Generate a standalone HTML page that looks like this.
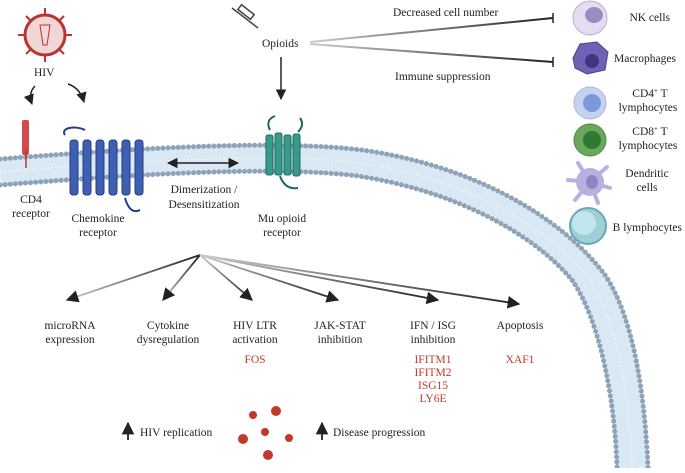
<!DOCTYPE html>
<html><head><meta charset="utf-8"><style>
body{margin:0;background:#fff}
svg text{font-family:"Liberation Serif",serif;font-size:11.5px;fill:#222}
.r{fill:#c0392b}
</style></head><body>
<svg width="685" height="468" viewBox="0 0 685 468" xmlns="http://www.w3.org/2000/svg">
<defs>
<marker id="a" viewBox="0 0 10 10" refX="9" refY="5" markerWidth="7" markerHeight="7" orient="auto-start-reverse"><path d="M0,0L10,5L0,10z" fill="#222"/></marker>
<linearGradient id="g" x1="0" x2="1"><stop offset="0" stop-color="#ccc"/><stop offset="1" stop-color="#222"/></linearGradient>
</defs>
<!-- membrane -->
<path d="M0,172 C150,160 280,153 360,163 C460,178 545,222 588,278 C618,320 630,400 632,468" fill="none" stroke="#d9e8f3" stroke-width="28"/>
<path d="M0,172 C150,160 280,153 360,163 C460,178 545,222 588,278 C618,320 630,400 632,468" fill="none" stroke="#fff" stroke-width="1.5" stroke-dasharray="1 3"/>
<path d="M0,159 C150,147 280,140 362,150 C470,165 560,215 605,275 C635,320 645,400 648,468" fill="none" stroke="#8fa3b8" stroke-width="5" stroke-linecap="round" stroke-dasharray="0.1 5"/>
<path d="M0,185 C150,173 280,166 358,176 C450,190 530,230 572,280 C600,320 615,400 617,468" fill="none" stroke="#8fa3b8" stroke-width="5" stroke-linecap="round" stroke-dasharray="0.1 5"/>
<!-- CD4 -->
<rect x="22" y="120" width="7" height="35" rx="2" fill="#d14b4b"/><line x1="26" y1="150" x2="26" y2="168" stroke="#b33" stroke-width="1.5"/>
<!-- chemokine receptor -->
<g fill="#3f5fb0" stroke="#233c8a" stroke-width="1">
<rect x="70" y="140" width="8" height="55" rx="3"/><rect x="83" y="140" width="8" height="55" rx="3"/><rect x="96" y="140" width="8" height="55" rx="3"/><rect x="109" y="140" width="8" height="55" rx="3"/><rect x="122" y="140" width="8" height="55" rx="3"/><rect x="135" y="140" width="8" height="55" rx="3"/></g>
<path d="M65,135 C60,128 75,125 85,130 M125,198 Q130,215 140,210" stroke="#233c8a" stroke-width="2" fill="none"/>
<!-- mu opioid -->
<g fill="#3a9a8a" stroke="#1e6b5e"><rect x="266" y="135" width="7" height="40" rx="2"/><rect x="275" y="133" width="7" height="42" rx="2"/><rect x="284" y="135" width="7" height="40" rx="2"/><rect x="293" y="134" width="7" height="42" rx="2"/></g>
<path d="M270,130 Q265,120 275,116 M298,132 Q305,125 300,118 M280,176 Q285,190 298,188" stroke="#1e6b5e" stroke-width="2" fill="none"/>
<line x1="168" y1="163" x2="238" y2="163" stroke="#222" stroke-width="1.5" marker-start="url(#a)" marker-end="url(#a)"/>
<!-- HIV -->
<circle cx="45" cy="35" r="20" fill="#f1d6d6" stroke="#b33" stroke-width="3"/>
<g stroke="#b33" stroke-width="2"><line x1="45" y1="15" x2="45" y2="8"/><line x1="45" y1="55" x2="45" y2="62"/><line x1="25" y1="35" x2="18" y2="35"/><line x1="65" y1="35" x2="72" y2="35"/><line x1="31" y1="21" x2="26" y2="16"/><line x1="59" y1="21" x2="64" y2="16"/><line x1="31" y1="49" x2="26" y2="54"/><line x1="59" y1="49" x2="64" y2="54"/></g>
<path d="M40,25 L50,25 L47,45 L43,45z" fill="none" stroke="#b33"/>
<text x="34" y="76">HIV</text>
<path d="M35,86 Q28,93 32,104" fill="none" stroke="#222" stroke-width="1.5" marker-end="url(#a)"/>
<path d="M68,84 Q80,88 84,102" fill="none" stroke="#222" stroke-width="1.5" marker-end="url(#a)"/>
<!-- syringe -->
<g stroke="#444" stroke-width="1.5" fill="none"><line x1="232" y1="8" x2="258" y2="28"/><rect x="238" y="9" width="16" height="6" transform="rotate(38 246 12)"/></g>
<text x="262" y="47">Opioids</text>
<line x1="310" y1="42" x2="553" y2="18" stroke="url(#g)" stroke-width="2"/><line x1="553" y1="13" x2="553" y2="23" stroke="#222" stroke-width="1.5"/>
<line x1="310" y1="44" x2="553" y2="62" stroke="url(#g)" stroke-width="2"/><line x1="553" y1="57" x2="553" y2="67" stroke="#222" stroke-width="1.5"/>
<text x="393" y="16">Decreased cell number</text>
<text x="395" y="80">Immune suppression</text>
<line x1="281" y1="57" x2="281" y2="99" stroke="#222" stroke-width="1.5" marker-end="url(#a)"/>
<!-- cells -->
<circle cx="590" cy="18" r="17" fill="#e4ddf0" stroke="#b9acd8"/><ellipse cx="594" cy="15" rx="9" ry="8" fill="#9d8cc4"/>
<path d="M573,58 L580,44 L597,42 L608,52 L605,70 L587,74 L575,68z" fill="#6e62b4" stroke="#4c438e"/><circle cx="592" cy="61" r="7" fill="#3f3580"/>
<circle cx="590" cy="103" r="16" fill="#c7d3ee" stroke="#a9b7e0"/><circle cx="592" cy="103" r="9" fill="#7f98dc"/>
<circle cx="590" cy="140" r="16" fill="#6aa65e" stroke="#4f8a45"/><circle cx="592" cy="140" r="9" fill="#2f7a2f"/>
<circle cx="590" cy="182" r="14" fill="#b7b0e0"/><g stroke="#b7b0e0" stroke-width="4" stroke-linecap="round"><line x1="590" y1="182" x2="578" y2="163"/><line x1="590" y1="182" x2="607" y2="167"/><line x1="590" y1="182" x2="568" y2="180"/><line x1="590" y1="182" x2="610" y2="188"/><line x1="590" y1="182" x2="575" y2="200"/><line x1="590" y1="182" x2="598" y2="203"/></g><ellipse cx="592" cy="182" rx="6" ry="7" fill="#8f86c4"/>
<circle cx="588" cy="226" r="18" fill="#9fd0d8" stroke="#6aa8b4" stroke-width="2"/><circle cx="584" cy="223" r="12" fill="#c3e6ec"/>
<g text-anchor="middle"><text x="670" y="21" text-anchor="end">NK cells</text>
<text x="676" y="62" text-anchor="end">Macrophages</text>
<text x="650" y="97">CD4<tspan font-size="7" dy="-4">+</tspan><tspan dy="4"> T</tspan></text><text x="648" y="111">lymphocytes</text>
<text x="650" y="135">CD8<tspan font-size="7" dy="-4">+</tspan><tspan dy="4"> T</tspan></text><text x="648" y="149">lymphocytes</text>
<text x="647" y="177">Dendritic</text><text x="647" y="191">cells</text>
<text x="682" y="231" text-anchor="end">B lymphocytes</text>
<text x="31" y="203">CD4</text><text x="31" y="217">receptor</text>
<text x="98" y="222">Chemokine</text><text x="98" y="236">receptor</text>
<text x="204" y="193">Dimerization /</text><text x="204" y="208">Desensitization</text>
<text x="282" y="222">Mu opioid</text><text x="282" y="236">receptor</text>
<text x="70" y="329">microRNA</text><text x="70" y="343">expression</text>
<text x="168" y="329">Cytokine</text><text x="168" y="343">dysregulation</text>
<text x="255" y="329">HIV LTR</text><text x="255" y="343">activation</text>
<text x="255" y="363" class="r">FOS</text>
<text x="340" y="329">JAK-STAT</text><text x="340" y="343">inhibition</text>
<text x="433" y="329">IFN / ISG</text><text x="433" y="343">inhibition</text>
<text x="433" y="363" class="r">IFITM1</text><text x="433" y="376" class="r">IFITM2</text><text x="433" y="389" class="r">ISG15</text><text x="433" y="402" class="r">LY6E</text>
<text x="520" y="329">Apoptosis</text><text x="520" y="363" class="r">XAF1</text></g>
<!-- fan arrows -->
<g stroke="url(#g)" stroke-width="1.8" fill="none">
<line x1="200" y1="255" x2="67" y2="300" marker-end="url(#a)"/>
<line x1="200" y1="255" x2="163" y2="300" marker-end="url(#a)"/>
<line x1="200" y1="255" x2="252" y2="300" marker-end="url(#a)"/>
<line x1="200" y1="255" x2="338" y2="300" marker-end="url(#a)"/>
<line x1="200" y1="255" x2="438" y2="300" marker-end="url(#a)"/>
<line x1="200" y1="255" x2="519" y2="304" marker-end="url(#a)"/></g>
<!-- bottom -->
<line x1="128" y1="440" x2="128" y2="423" stroke="#222" stroke-width="1.8" marker-end="url(#a)"/>
<text x="140" y="436">HIV replication</text>
<line x1="322" y1="440" x2="322" y2="423" stroke="#222" stroke-width="1.8" marker-end="url(#a)"/>
<text x="333" y="436">Disease progression</text>
<g fill="#c0392b"><circle cx="253" cy="415" r="4"/><circle cx="276" cy="411" r="5"/><circle cx="265" cy="432" r="4"/><circle cx="243" cy="439" r="5"/><circle cx="289" cy="438" r="4"/><circle cx="268" cy="455" r="5"/></g>
</svg>
</body></html>
